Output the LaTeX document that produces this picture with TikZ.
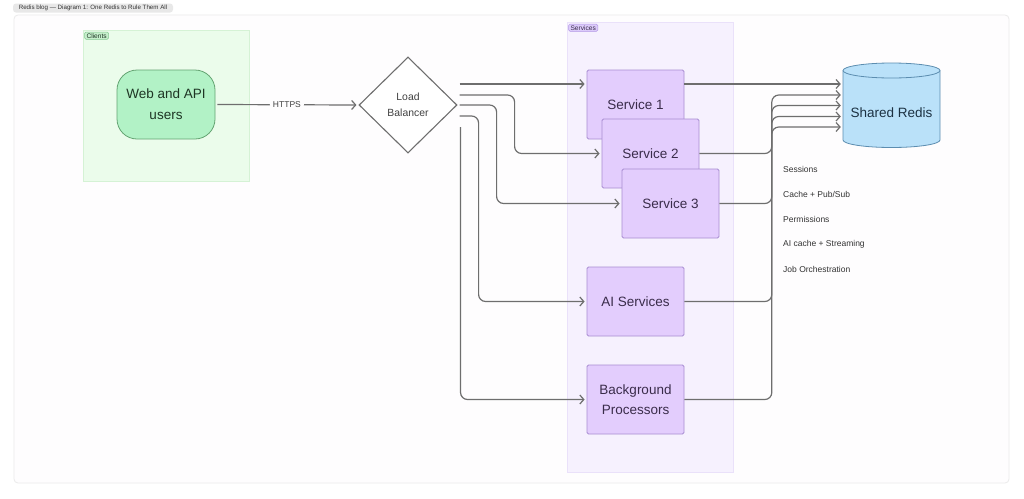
\documentclass[tikz,border=0pt]{standalone}
\usepackage{fontspec}
\setmainfont{Liberation Sans}
\usepackage{xcolor}
\usetikzlibrary{arrows.meta, calc, shapes.geometric}

\definecolor{linegray}{HTML}{6E6E6E}
\definecolor{framefill}{HTML}{FEFDFE}
\definecolor{frameline}{HTML}{EBEBEB}
\definecolor{tabfill}{HTML}{E8E8E8}
\definecolor{cligroup}{HTML}{EBFCEB}
\definecolor{cliline}{HTML}{D5F2D5}
\definecolor{clitag}{HTML}{C6EFCC}
\definecolor{clitagline}{HTML}{86C993}
\definecolor{userfill}{HTML}{B2F2C6}
\definecolor{userline}{HTML}{64A472}
\definecolor{usertext}{HTML}{1E3524}
\definecolor{svcgroup}{HTML}{F6F1FE}
\definecolor{svcgroupline}{HTML}{EAE1FA}
\definecolor{svctag}{HTML}{DCCBFA}
\definecolor{svctagline}{HTML}{B397E6}
\definecolor{svcfill}{HTML}{E3CDFD}
\definecolor{svcline}{HTML}{A88DD2}
\definecolor{svctext}{HTML}{3A2C4A}
\definecolor{dbfill}{HTML}{BAE1F9}
\definecolor{dbline}{HTML}{5C8DB0}
\definecolor{dbtext}{HTML}{1C3142}

\begin{document}
\begin{tikzpicture}[x=1pt, y=1pt,
    svc/.style={draw=svcline, fill=svcfill, line width=0.8pt, rounded corners=1.5pt,
        minimum width=97pt, minimum height=69pt, inner sep=2pt, align=center,
        text=svctext, font=\fontsize{13.5}{20}\selectfont},
    link/.style={draw=linegray, line width=1.2pt, rounded corners=7pt,
        -{Straight Barb[length=4pt, width=9pt]}, shorten >=2pt},
    tag/.style={rounded corners=1.5pt, line width=0.5pt, inner xsep=2pt, inner ysep=1.2pt,
        anchor=north west, font=\fontsize{6.6}{7}\selectfont},
    note/.style={anchor=west, inner sep=0pt, text=black!80,
        font=\fontsize{8.5}{10}\selectfont}
]
    % 画布
    \useasboundingbox (0,0) rectangle (1024,-498);
    \fill[white] (0,0) rectangle (1024,-498);
    \draw[frameline, fill=framefill, rounded corners=4pt, line width=0.8pt] (14,-15) rectangle (1009,-483);
    \node[fill=tabfill, text=black!80, rounded corners=3pt, inner sep=0pt,
        minimum width=160pt, minimum height=9pt, font=\fontsize{6.2}{7}\selectfont]
        (title) at (93,-8) {Redis blog — Diagram 1: One Redis to Rule Them All};

    % 分组
    \node[draw=cliline, fill=cligroup, minimum width=166pt, minimum height=151pt] (clients) at (166,-105.5) {};
    \node[tag, draw=clitagline, fill=clitag, text=usertext] (clitag) at ([shift={(1.5,-2)}]clients.north west) {Clients};

    \node[draw=svcgroupline, fill=svcgroup, minimum width=166pt, minimum height=450pt] (services) at (650,-247) {};
    \node[tag, draw=svctagline, fill=svctag, text=svctext] (svctag) at ([shift={(1.5,-2)}]services.north west) {Services};

    % 节点
    \node[draw=userline, fill=userfill, line width=0.8pt, rounded corners=20pt,
        minimum width=98pt, minimum height=69pt, align=center, text=usertext,
        font=\fontsize{13.5}{21}\selectfont] (users) at (166,-104.5) {Web and API\\users};

    \node[diamond, draw=linegray, fill=white, line width=1.1pt, minimum width=98pt,
        minimum height=96pt, inner sep=0pt, align=center, text=black!75,
        font=\fontsize{10.4}{16}\selectfont] (lb) at (408,-105) {Load\\Balancer};

    \node[svc] (svc1) at (635.5,-104.5) {Service 1};
    \node[svc] (svc2) at (650.5,-153.5) {Service 2};
    \node[svc] (svc3) at (670.5,-203.5) {Service 3};
    \node[svc] (ai) at (635.5,-301.5) {AI Services};
    \node[svc] (bg) at (635.5,-399.5) {Background\\Processors};

    % 缓存
    \draw[dbline, fill=dbfill, line width=0.8pt] (843,-70.5) -- (843,-140)
        arc[start angle=180, end angle=360, x radius=48.5, y radius=7.5] -- (940,-70.5)
        arc[start angle=0, end angle=180, x radius=48.5, y radius=7.5] -- cycle;
    \draw[dbline, line width=0.8pt] (843,-70.5) arc[start angle=180, end angle=360, x radius=48.5, y radius=7.5];
    \node[minimum width=97pt, minimum height=69pt, text=dbtext,
        font=\fontsize{13.5}{16}\selectfont] (redis) at (891.5,-112.5) {Shared Redis};

    % 连线
    \draw[link, shorten <=2pt] (users.east) -- node[fill=framefill, inner sep=3pt, text=black!75,
        font=\fontsize{8.5}{10}\selectfont] (https) {HTTPS} (lb.west);

    \coordinate (l1) at ($(lb.east)+(2,21)$);
    \coordinate (l2) at ($(lb.east)+(2,10)$);
    \coordinate (l3) at ($(lb.east)+(2,0)$);
    \coordinate (l4) at ($(lb.east)+(2,-11)$);
    \coordinate (l5) at ($(lb.east)+(3,-22)$);

    \draw[link] (l1) -- (l1 -| svc1.west);
    \draw[link] (l2) -| ($(svc2.west)+(-87,0)$) -- (svc2.west);
    \draw[link] (l3) -| ($(svc3.west)+(-125,0)$) -- (svc3.west);
    \draw[link] (l4) -| ($(ai.west)+(-108,0)$) -- (ai.west);
    \draw[link] (l5) |- (bg.west);

    \coordinate (r1) at ($(redis.west)+(0,28.5)$);
    \coordinate (r2) at ($(redis.west)+(0,17.5)$);
    \coordinate (r3) at ($(redis.west)+(0,7)$);
    \coordinate (r4) at ($(redis.west)+(0,-4)$);
    \coordinate (r5) at ($(redis.west)+(0,-14.5)$);

    \draw[link] (svc1.east |- r1) -- (r1);
    \draw[link] (svc2.east) -| ($(r2)+(-71,0)$) -- (r2);
    \draw[link] (svc3.east) -| ($(r3)+(-71,0)$) -- (r3);
    \draw[link] (ai.east) -| ($(r4)+(-71,0)$) -- (r4);
    \draw[link] (bg.east) -| ($(r5)+(-71,0)$) -- (r5);

    % 说明
    \node[note] (n1) at (783,-169.5) {Sessions};
    \node[note] (n2) at (783,-194.5) {Cache + Pub/Sub};
    \node[note] (n3) at (783,-219.5) {Permissions};
    \node[note] (n4) at (783,-244.5) {AI cache + Streaming};
    \node[note] (n5) at (783,-269.5) {Job Orchestration};
\end{tikzpicture}
\end{document}
